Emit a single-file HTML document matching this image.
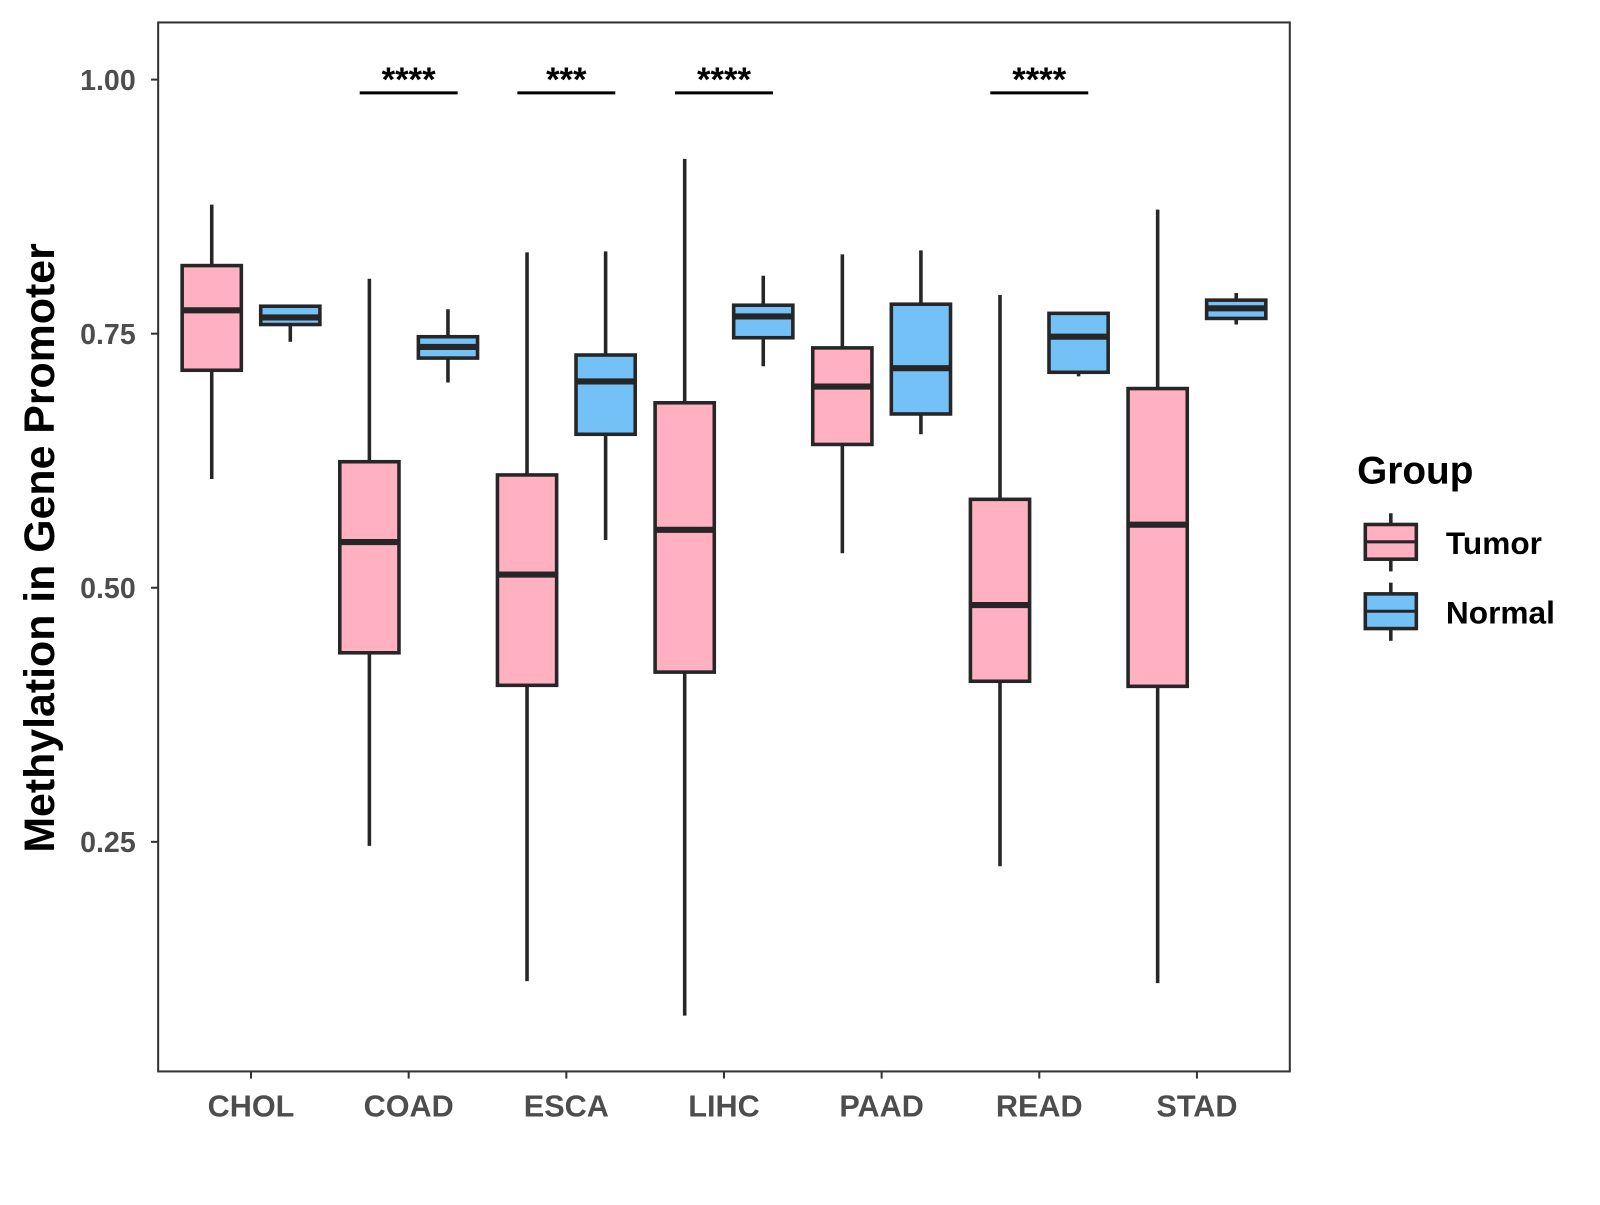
<!DOCTYPE html>
<html><head><meta charset="utf-8"><style>
body{margin:0;background:#fff;}
svg text{font-family:"Liberation Sans",Arial,sans-serif;font-weight:bold;}
</style></head><body>
<svg id="chart" width="1600" height="1200" viewBox="0 0 1568 1176" xmlns="http://www.w3.org/2000/svg">
<rect x="0" y="0" width="1568" height="1176" fill="#fff"/>
<g id="plot"></g>
<g id="legend">
<text x="1330" y="474" font-size="38" fill="#000">Group</text>
<g>
<line x1="1363" y1="503" x2="1363" y2="560" stroke="#262626" stroke-width="3.5"/>
<rect x="1338" y="514" width="50" height="34" fill="#FFB0C1" stroke="#262626" stroke-width="3.5"/>
<line x1="1338" y1="531" x2="1388" y2="531" stroke="#262626" stroke-width="3"/>
<text x="1417" y="543" font-size="31" fill="#000">Tumor</text>
</g>
<g>
<line x1="1363" y1="571" x2="1363" y2="628" stroke="#262626" stroke-width="3.5"/>
<rect x="1338" y="582" width="50" height="34" fill="#74C1F8" stroke="#262626" stroke-width="3.5"/>
<line x1="1338" y1="599" x2="1388" y2="599" stroke="#262626" stroke-width="3"/>
<text x="1417" y="611" font-size="31" fill="#000">Normal</text>
</g>
</g>
<text transform="translate(53,537) rotate(-90)" text-anchor="middle" font-size="42" fill="#000">Methylation in Gene Promoter</text>
</svg>
<script>
const categories=["CHOL","COAD","ESCA","LIHC","PAAD","READ","STAD"];
const tumorLow=[0.607,0.246,0.113,0.079,0.534,0.226,0.111];
const tumorQ1=[0.714,0.436,0.404,0.417,0.641,0.408,0.403];
const tumorMed=[0.773,0.545,0.513,0.557,0.698,0.483,0.562];
const tumorQ3=[0.817,0.624,0.611,0.682,0.736,0.587,0.696];
const tumorHigh=[0.877,0.804,0.830,0.922,0.828,0.788,0.872];
const normalLow=[0.742,0.702,0.547,0.718,0.651,0.708,0.759];
const normalQ1=[0.759,0.726,0.651,0.746,0.671,0.712,0.765];
const normalMed=[0.766,0.737,0.703,0.767,0.716,0.747,0.775];
const normalQ3=[0.777,0.747,0.729,0.778,0.779,0.770,0.783];
const normalHigh=[0.777,0.774,0.831,0.807,0.832,0.770,0.790];
const sigLabels=["","****","***","****","","****",""];
const yTicks=[0.25,0.50,0.75,1.00];
const yTickLabels=["0.25","0.50","0.75","1.00"];

const NS="http://www.w3.org/2000/svg";
const g=document.getElementById('plot');
const PL=155,PR=1264,PT=22,PB=1050;
function y(v){return 78+(1-v)*996;}
function x(i){return 246+i*154.5;}
function mk(tag,attrs,parent){const e=document.createElementNS(NS,tag);for(const k in attrs)e.setAttribute(k,attrs[k]);(parent||g).appendChild(e);return e;}

const frame=mk('rect',{x:PL,y:PT,width:PR-PL,height:PB-PT,fill:'none',stroke:'#333',"stroke-width":2});



yTicks.forEach((t,i)=>{
  const tk=mk('line',{x1:PL-7,x2:PL,y1:y(t),y2:y(t),stroke:'#333',"stroke-width":2});
  
  
  const lb=mk('text',{x:PL-22,y:y(t)+10,"text-anchor":"end","font-size":28,fill:'#4d4d4d'});
  lb.textContent=yTickLabels[i];
  
  
});

function box(cx,lo,q1,md,q3,hi,fill,name){
  const grp=mk('g',{});
  
  
  const w=58;
  mk('line',{x1:cx,x2:cx,y1:y(hi),y2:y(lo),stroke:'#262626',"stroke-width":3.5},grp);
  mk('rect',{x:cx-w/2,y:y(q3),width:w,height:y(q1)-y(q3),fill:fill,stroke:'#262626',"stroke-width":3.5},grp);
  mk('line',{x1:cx-w/2,x2:cx+w/2,y1:y(md),y2:y(md),stroke:'#262626',"stroke-width":6},grp);
}

categories.forEach((c,i)=>{
  const cx=x(i);
  box(cx-38.5,tumorLow[i],tumorQ1[i],tumorMed[i],tumorQ3[i],tumorHigh[i],'#FFB0C1','box-tumor-'+c.toLowerCase());
  box(cx+38.5,normalLow[i],normalQ1[i],normalMed[i],normalQ3[i],normalHigh[i],'#74C1F8','box-normal-'+c.toLowerCase());
  const tk=mk('line',{x1:cx,x2:cx,y1:PB,y2:PB+7,stroke:'#333',"stroke-width":2});
  
  
  const lb=mk('text',{x:cx,y:1094,"text-anchor":"middle","font-size":30,fill:'#4d4d4d'});
  lb.textContent=c;
  
  
  if(sigLabels[i]){
    const bl=mk('line',{x1:cx-48,x2:cx+48,y1:91,y2:91,stroke:'#000',"stroke-width":3});
    
    
    const st=mk('text',{x:cx,y:89,"text-anchor":"middle","font-size":34,fill:'#000'});
    st.textContent=sigLabels[i];
    
    
  }
});
</script>
</body></html>
